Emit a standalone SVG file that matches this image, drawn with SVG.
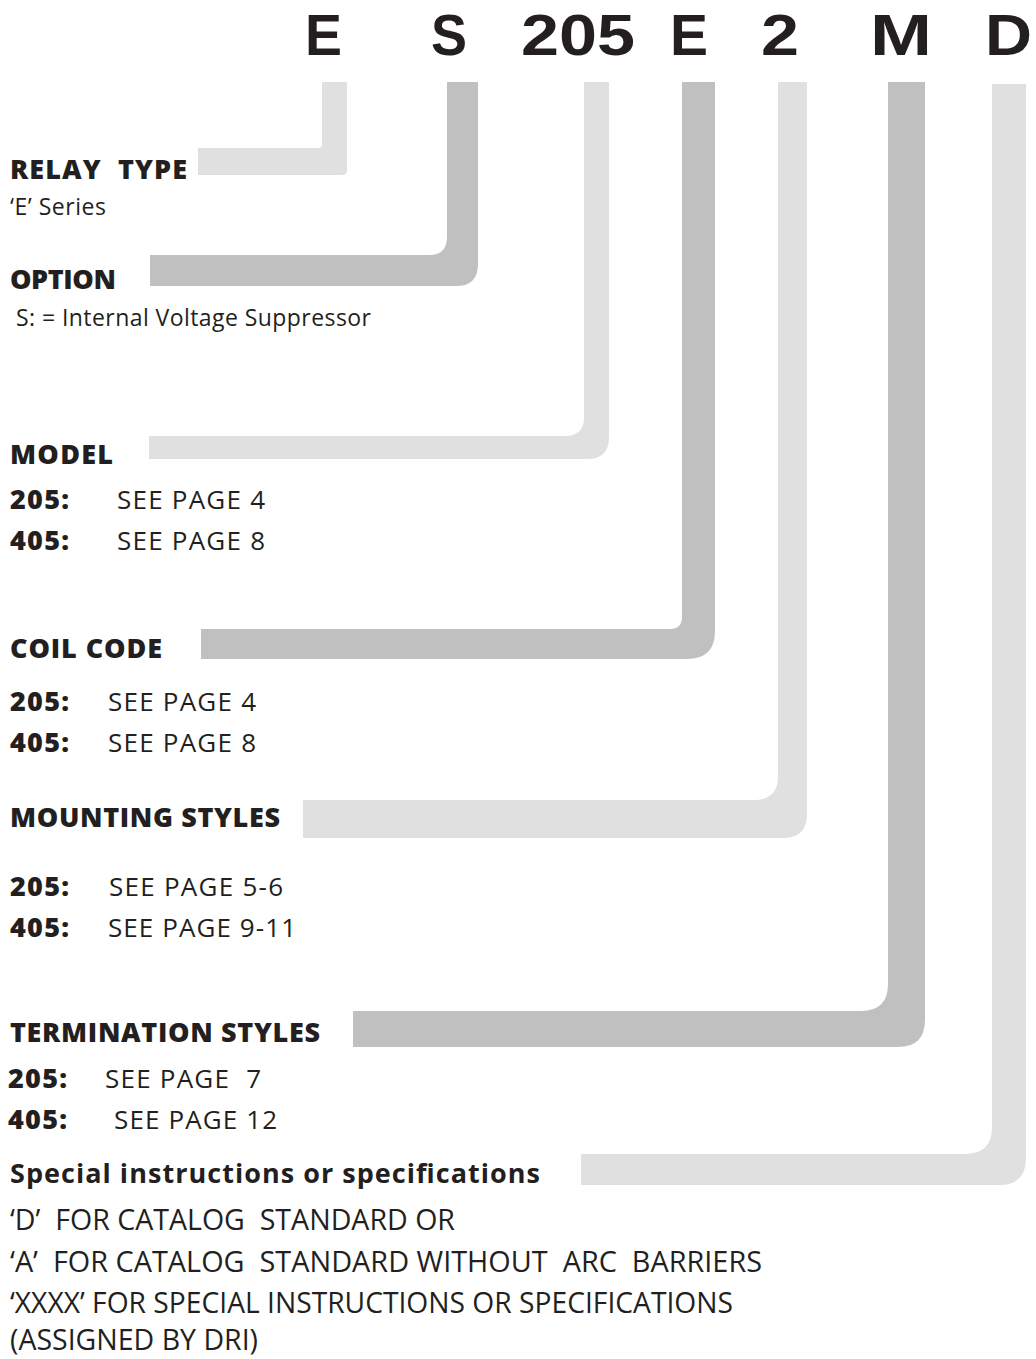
<svg xmlns="http://www.w3.org/2000/svg" width="1036" height="1359" viewBox="0 0 1036 1359" xml:space="preserve">
<style>
text{white-space:pre}
.lt{fill:#e0e0e0}
.dk{fill:#c0c0c0}
.big{font-family:"Liberation Sans",Arial,sans-serif;font-weight:700;font-size:58px;fill:#231f20}
.h{font-family:"Open Sans","DejaVu Sans",sans-serif;font-weight:800;font-size:27px;fill:#231f20}
.b{font-family:"Open Sans","DejaVu Sans",sans-serif;font-weight:400;font-size:26px;fill:#231f20}
.s{font-family:"Open Sans","DejaVu Sans",sans-serif;font-weight:400;font-size:23px;fill:#231f20}
.c{font-family:"Open Sans","DejaVu Sans",sans-serif;font-weight:400;font-size:29px;fill:#231f20}
</style>
<rect width="1036" height="1359" fill="#ffffff"/>
<g id="code">
<text class="big" x="305" y="55" textLength="37" lengthAdjust="spacingAndGlyphs">E</text>
<text class="big" x="431" y="55" textLength="36" lengthAdjust="spacingAndGlyphs">S</text>
<text class="big" x="521" y="55" textLength="114" lengthAdjust="spacingAndGlyphs">205</text>
<text class="big" x="670" y="55" textLength="38" lengthAdjust="spacingAndGlyphs">E</text>
<text class="big" x="761" y="55" textLength="38" lengthAdjust="spacingAndGlyphs">2</text>
<text class="big" x="870" y="55" textLength="62" lengthAdjust="spacingAndGlyphs">M</text>
<text class="big" x="985" y="55" textLength="47" lengthAdjust="spacingAndGlyphs">D</text>
</g>
<g id="connectors">
<path class="lt" d="M322,82 H347 V170 Q347,175 342,175 H198 V148 H318 Q322,148 322,144 Z"/>
<path class="dk" d="M447,82 H478 V264 Q478,286 456,286 H150 V255 H429 Q447,255 447,237 Z"/>
<path class="lt" d="M584,82 H609 V437 Q609,459 587,459 H149 V436 H564 Q584,436 584,418 Z"/>
<path class="dk" d="M682,82 H715 V631 Q715,659 687,659 H201 V629 H670 Q682,629 682,617 Z"/>
<path class="lt" d="M778,82 H807 V814 Q807,838 783,838 H303 V800 H754 Q778,800 778,776 Z"/>
<path class="dk" d="M888,82 H925 V1020 Q925,1047 898,1047 H353 V1011 H861 Q888,1011 888,984 Z"/>
<path class="lt" d="M992,84 H1026 V1158 Q1026,1185 999,1185 H581 V1154 H965 Q992,1154 992,1127 Z"/>
</g>
<g id="relay-type">
<text class="h" x="10" y="179" textLength="177">RELAY  TYPE</text>
<text class="s" x="10" y="215" textLength="96">‘E’ Series</text>
</g>
<g id="option">
<text class="h" x="10" y="289" textLength="106">OPTION</text>
<text class="s" x="16" y="326" textLength="355">S: = Internal Voltage Suppressor</text>
</g>
<g id="model">
<text class="h" x="10" y="464" textLength="103">MODEL</text>
<text class="h" x="10" y="509" textLength="59">205:</text>
<text class="b" x="117" y="509" textLength="148">SEE PAGE 4</text>
<text class="h" x="10" y="550" textLength="59">405:</text>
<text class="b" x="117" y="550" textLength="148">SEE PAGE 8</text>
</g>
<g id="coil-code">
<text class="h" x="10" y="658" textLength="152">COIL CODE</text>
<text class="h" x="10" y="711" textLength="59">205:</text>
<text class="b" x="108" y="711" textLength="148">SEE PAGE 4</text>
<text class="h" x="10" y="752" textLength="59">405:</text>
<text class="b" x="108" y="752" textLength="148">SEE PAGE 8</text>
</g>
<g id="mounting-styles">
<text class="h" x="10" y="827" textLength="270">MOUNTING STYLES</text>
<text class="h" x="10" y="896" textLength="59">205:</text>
<text class="b" x="109" y="896" textLength="174">SEE PAGE 5-6</text>
<text class="h" x="10" y="937" textLength="59">405:</text>
<text class="b" x="108" y="937" textLength="188">SEE PAGE 9-11</text>
</g>
<g id="termination-styles">
<text class="h" x="10" y="1042" textLength="310">TERMINATION STYLES</text>
<text class="h" x="8" y="1088" textLength="59">205:</text>
<text class="b" x="105" y="1088" textLength="156">SEE PAGE  7</text>
<text class="h" x="8" y="1129" textLength="59">405:</text>
<text class="b" x="114" y="1129" textLength="163">SEE PAGE 12</text>
</g>
<g id="special">
<text class="h" x="10" y="1183" textLength="530" style="font-weight:700">Special instructions or specifications</text>
<text class="c" x="10" y="1230" textLength="445" lengthAdjust="spacingAndGlyphs">‘D’  FOR CATALOG  STANDARD OR</text>
<text class="c" x="10" y="1272" textLength="752" lengthAdjust="spacingAndGlyphs">‘A’  FOR CATALOG  STANDARD WITHOUT  ARC  BARRIERS</text>
<text class="c" x="10" y="1313" textLength="723" lengthAdjust="spacingAndGlyphs">‘XXXX’ FOR SPECIAL INSTRUCTIONS OR SPECIFICATIONS</text>
<text class="c" x="10" y="1350" textLength="248" lengthAdjust="spacingAndGlyphs">(ASSIGNED BY DRI)</text>
</g>
</svg>
